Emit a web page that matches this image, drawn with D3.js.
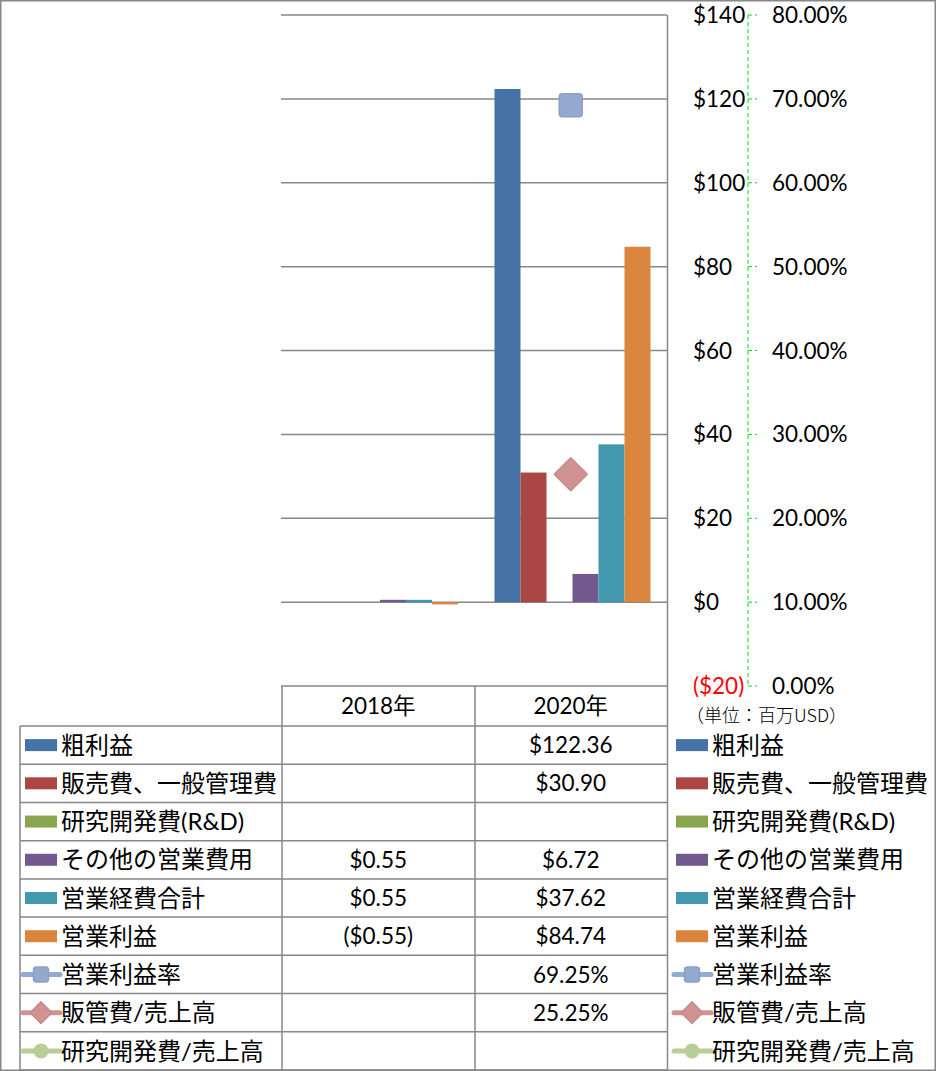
<!DOCTYPE html>
<html><head><meta charset="utf-8">
<script src="https://cdn.jsdelivr.net/npm/d3@7"></script>
<style>
body{margin:0;background:#fff;}
text{font-family:Lato,"Noto Sans CJK JP",sans-serif;fill:#000;}
</style></head>
<body><svg id="c" width="936" height="1071"></svg>
<script>
// ---- data ----
const categories = ["2018年", "2020年"];
const barNames = ["粗利益", "販売費、一般管理費", "研究開発費(R&D)", "その他の営業費用", "営業経費合計", "営業利益"];
const grossProfit = [null, 122.36];
const sgaExpense = [null, 30.90];
const rndExpense = [null, null];
const otherOpex = [0.55, 6.72];
const totalOpex = [0.55, 37.62];
const operatingIncome = [-0.55, 84.74];
const lineNames = ["営業利益率", "販管費/売上高", "研究開発費/売上高"];
const operatingMargin = [null, 69.25];
const sgaRatio = [null, 25.25];
const rndRatio = [null, null];
const leftTicks = [-20, 0, 20, 40, 60, 80, 100, 120, 140];
const rightTicks = [0, 10, 20, 30, 40, 50, 60, 70, 80];
const unitLabel = "（単位：百万USD）";

const barValues = [grossProfit, sgaExpense, rndExpense, otherOpex, totalOpex, operatingIncome];
const lineValues = [operatingMargin, sgaRatio, rndRatio];
const barColors = ["#4572A7", "#AA4643", "#89A54E", "#71588F", "#4198AF", "#DB843D"];
const lineColors = ["#93A9CF", "#D19392", "#B9CD96"];
const lineShapes = ["square", "diamond", "circle"];

const svg = d3.select("#c");
const grid = "#878787";
const numSize = "22.5px", labSize = "24px";

// outer frame
svg.append("rect").attr("x", 0.75).attr("y", 0.75).attr("width", 934.5).attr("height", 1069.5)
  .attr("fill", "#fff").attr("stroke", grid).attr("stroke-width", 1.5);

const x = d3.scaleBand().domain(categories).range([282, 667]);
const xs = d3.scaleBand().domain(barNames).range([20, 176]);
const yL = d3.scaleLinear().domain([-20, 140]).range([686, 15]);
const yR = d3.scaleLinear().domain([0, 80]).range([686, 15]);

// gridlines
svg.append("g").selectAll("line").data(leftTicks).join("line")
  .attr("x1", 281).attr("x2", 667).attr("y1", d => yL(d)).attr("y2", d => yL(d))
  .attr("stroke", grid).attr("stroke-width", 1.5);
// plot right border
svg.append("line").attr("x1", 667.5).attr("x2", 667.5).attr("y1", 15).attr("y2", 1070)
  .attr("stroke", grid).attr("stroke-width", 1.5);

// bars
barNames.forEach((name, i) => {
  svg.append("g").selectAll("rect")
    .data(categories.map((c, j) => ({c, v: barValues[i][j]})).filter(d => d.v != null))
    .join("rect")
    .attr("x", d => x(d.c) + xs(name))
    .attr("width", xs.bandwidth())
    .attr("y", d => Math.min(yL(0), yL(d.v)))
    .attr("height", d => Math.abs(yL(d.v) - yL(0)))
    .attr("fill", barColors[i]);
});

// markers
function marker(g, shape, color, cx, cy, s) {
  if (shape === "square") {
    g.append("rect").attr("x", cx - s / 2).attr("y", cy - s / 2).attr("width", s).attr("height", s)
      .attr("rx", 3).attr("fill", color).attr("stroke", d3.color(color).darker(0.15)).attr("stroke-width", 1.5);
  } else if (shape === "diamond") {
    const r = s * 0.72;
    g.append("path").attr("d", `M${cx},${cy - r}L${cx + r},${cy}L${cx},${cy + r}L${cx - r},${cy}Z`)
      .attr("fill", color).attr("stroke", d3.color(color).darker(0.15)).attr("stroke-width", 1.5).attr("stroke-linejoin", "round");
  } else {
    g.append("circle").attr("cx", cx).attr("cy", cy).attr("r", s / 2).attr("fill", color);
  }
}
lineNames.forEach((name, i) => {
  const g = svg.append("g");
  const pts = categories.map((c, j) => ({c, v: lineValues[i][j]})).filter(d => d.v != null);
  pts.forEach(d => marker(g, lineShapes[i], lineColors[i], x(d.c) + x.bandwidth() / 2, yR(d.v), 23));
});

// left (dollar) axis labels
const fmtDollar = v => v < 0 ? "($" + Math.abs(v) + ")" : "$" + v;
svg.append("g").selectAll("text").data(leftTicks).join("text")
  .attr("x", 693).attr("y", d => yL(d)).attr("dy", "0.36em")
  .style("font-size", numSize).style("fill", d => d < 0 ? "#FF0000" : "#000")
  .text(fmtDollar);

// right (percent) axis
svg.append("line").attr("x1", 748).attr("x2", 748).attr("y1", yR(80)).attr("y2", yR(0))
  .attr("stroke", "#00E000").attr("stroke-width", 1).attr("stroke-dasharray", "4,3");
svg.append("g").selectAll("line").data(rightTicks).join("line")
  .attr("x1", 748).attr("x2", 757).attr("y1", d => yR(d)).attr("y2", d => yR(d))
  .attr("stroke", "#00E000").attr("stroke-width", 1).attr("stroke-dasharray", "4,3");
svg.append("g").selectAll("text").data(rightTicks).join("text")
  .attr("x", 772).attr("y", d => yR(d)).attr("dy", "0.36em")
  .style("font-size", numSize).text(d => d.toFixed(2) + "%");

svg.append("text").attr("x", 686).attr("y", 716).attr("dy", "0.36em")
  .style("font-size", "18px").style("font-family", "'Noto Sans CJK JP'").style("font-weight", "300").text(unitLabel);

// table
const allNames = barNames.concat(lineNames);
const rows = d3.scaleBand().domain(allNames).range([726, 1070]);
const headerTop = 686, left = 20;
const tl = svg.append("g").attr("stroke", grid).attr("stroke-width", 1.5);
[726].concat(allNames.map(n => rows(n) + rows.bandwidth())).forEach(yy => {
  tl.append("line").attr("x1", left).attr("x2", 667).attr("y1", yy).attr("y2", yy);
});
tl.append("line").attr("x1", left).attr("x2", left).attr("y1", 726).attr("y2", 1070);
[282, 475].forEach(xx => tl.append("line").attr("x1", xx).attr("x2", xx).attr("y1", headerTop).attr("y2", 1070));

svg.append("g").selectAll("text").data(categories).join("text")
  .attr("x", d => x(d) + x.bandwidth() / 2).attr("y", 706).attr("dy", "0.36em")
  .attr("text-anchor", "middle").style("font-size", numSize).text(d => d);

const fmtCell = (v, isPct) => v == null ? "" : isPct ? v.toFixed(2) + "%" :
  (v < 0 ? "($" + Math.abs(v).toFixed(2) + ")" : "$" + v.toFixed(2));

function legendKey(g, i, x0, cy) {
  if (i < barNames.length) {
    g.append("rect").attr("x", x0).attr("y", cy - 6).attr("width", 32).attr("height", 12).attr("fill", barColors[i]);
  } else {
    const k = i - barNames.length;
    g.append("line").attr("x1", x0 - 2).attr("x2", x0 + 35).attr("y1", cy).attr("y2", cy)
      .attr("stroke", lineColors[k]).attr("stroke-width", 5).attr("stroke-linecap", "round");
    marker(g, lineShapes[k], lineColors[k], x0 + 16, cy, 15);
  }
}

allNames.forEach((name, i) => {
  const cy = rows(name) + rows.bandwidth() / 2;
  const g = svg.append("g");
  legendKey(g, i, 25, cy);
  g.append("text").attr("x", 61).attr("y", cy).attr("dy", "0.36em").style("font-size", labSize).text(name);
  legendKey(g, i, 676, cy);
  g.append("text").attr("x", 712).attr("y", cy).attr("dy", "0.36em").style("font-size", labSize).text(name);
  const vals = i < barNames.length ? barValues[i] : lineValues[i - barNames.length];
  const isPct = i >= barNames.length;
  categories.forEach((c, j) => {
    g.append("text").attr("x", x(c) + x.bandwidth() / 2).attr("y", cy).attr("dy", "0.36em")
      .attr("text-anchor", "middle").style("font-size", numSize).text(fmtCell(vals[j], isPct));
  });
});
</script></body></html>
